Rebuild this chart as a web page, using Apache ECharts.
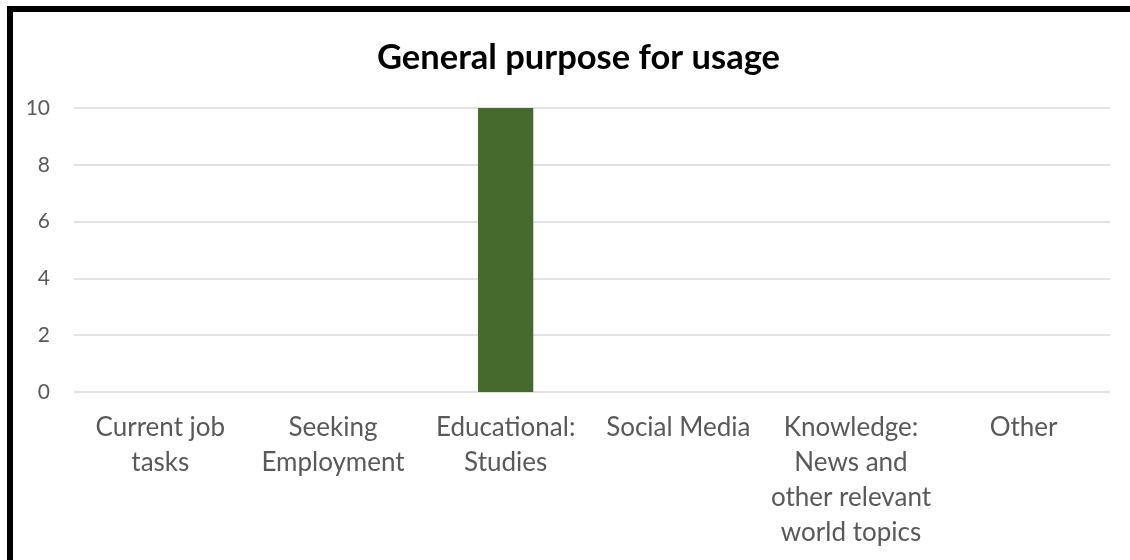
<!DOCTYPE html>
<html><head><meta charset="utf-8">
<script src="https://cdn.jsdelivr.net/npm/echarts@6/dist/echarts.min.js"></script>
<style>html,body{margin:0;padding:0;background:#fff}#c{width:1130px;height:560px}</style>
</head><body><div id="c"></div>
<script>
const categories = ['Current job\ntasks','Seeking\nEmployment','Educational:\nStudies','Social Media','Knowledge:\nNews and\nother relevant\nworld topics','Other'];
const values = [0, 0, 10, 0, 0, 0];
const chart = echarts.init(document.getElementById('c'), null, {renderer:'canvas'});
const FONT = 'Lato';
chart.setOption({
  animation:false,
  backgroundColor:'#fff',
  title:{text:'General purpose for usage', left:372, top:35,
    textStyle:{fontFamily:FONT, fontWeight:'bold', fontSize:34.5, color:'#000'}},
  graphic:[{type:'rect', shape:{x:10, y:9, width:1300, height:800}, style:{fill:'none', stroke:'#000', lineWidth:6}, z:100}],
  grid:{left:74, right:20, top:108, bottom:168, containLabel:false},
  xAxis:{type:'category', data:categories,
    axisLine:{show:false}, axisTick:{show:false},
    axisLabel:{fontFamily:FONT, fontSize:26, color:'#595959', lineHeight:35, margin:18, interval:0}},
  yAxis:{type:'value', min:0, max:10, interval:2,
    axisLine:{show:false}, axisTick:{show:false},
    splitLine:{lineStyle:{color:'#d9d9d9', width:1.5}},
    axisLabel:{fontFamily:FONT, fontSize:21, color:'#595959', margin:24}},
  series:[{type:'bar', data:values, barWidth:'32%', itemStyle:{color:'#466A2E'}}]
});
</script></body></html>
